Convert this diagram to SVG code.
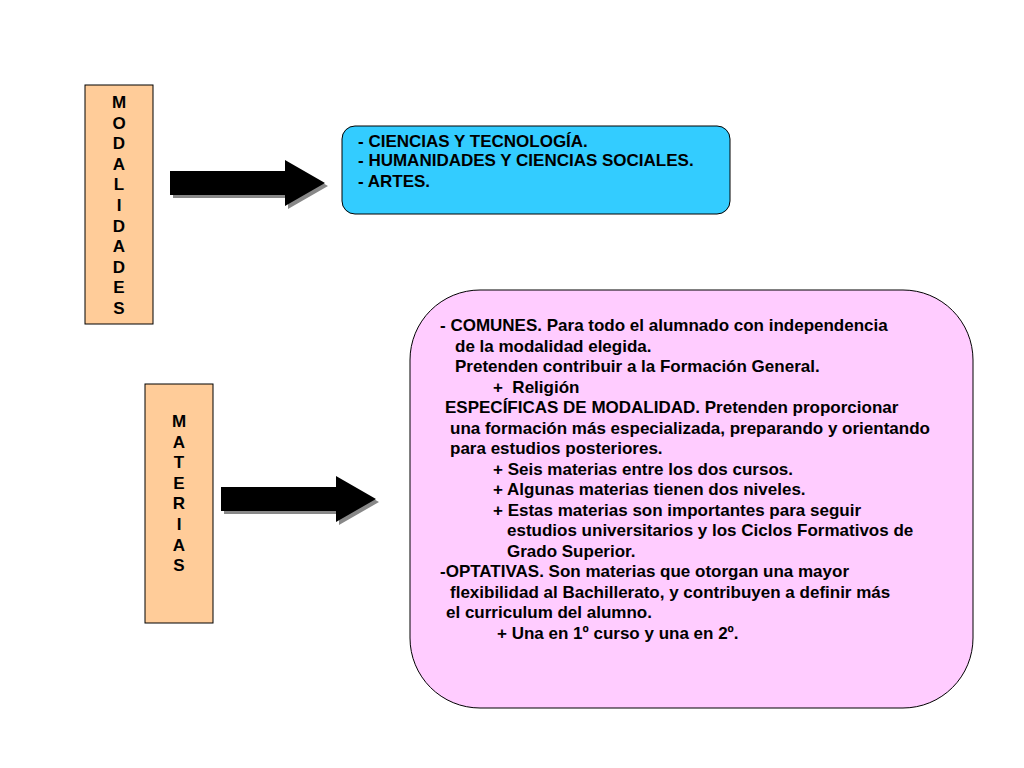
<svg xmlns="http://www.w3.org/2000/svg" width="1024" height="768" viewBox="0 0 1024 768">
<defs>
<style>
.t{font-family:"Liberation Sans",Arial,sans-serif;font-weight:bold;font-size:17px;fill:#000}
.v{font-family:"Liberation Sans",Arial,sans-serif;font-weight:bold;font-size:17px;fill:#000;text-anchor:middle}
.lbl{fill:#FFCC99;stroke:#000;stroke-width:1}
</style>
<path id="arr" d="M0,11 L115,11 L115,0 L155,23 L115,46 L115,35 L0,35 Z"/>
</defs>
<rect width="1024" height="768" fill="#fff"/>
<g id="modalidades">
<rect class="lbl" x="85" y="85" width="68" height="239"/>
<text class="v" x="119" y="108">M</text>
<text class="v" x="119" y="128.6">O</text>
<text class="v" x="119" y="149.2">D</text>
<text class="v" x="119" y="169.8">A</text>
<text class="v" x="119" y="190.4">L</text>
<text class="v" x="119" y="211">I</text>
<text class="v" x="119" y="231.6">D</text>
<text class="v" x="119" y="252.2">A</text>
<text class="v" x="119" y="272.8">D</text>
<text class="v" x="119" y="293.4">E</text>
<text class="v" x="119" y="314">S</text>
</g>
<g id="materias">
<rect class="lbl" x="145" y="384" width="68" height="239"/>
<text class="v" x="179" y="427">M</text>
<text class="v" x="179" y="447.6">A</text>
<text class="v" x="179" y="468.2">T</text>
<text class="v" x="179" y="488.8">E</text>
<text class="v" x="179" y="509.4">R</text>
<text class="v" x="179" y="530">I</text>
<text class="v" x="179" y="550.6">A</text>
<text class="v" x="179" y="571.2">S</text>
</g>
<g id="connectors">
<use href="#arr" x="173" y="163" fill="#888"/>
<use href="#arr" x="170" y="160" fill="#000"/>
<use href="#arr" x="224" y="479" fill="#888"/>
<use href="#arr" x="221" y="476" fill="#000"/>
</g>
<g id="modalidades-list">
<rect x="342" y="126" width="388" height="88" rx="13" fill="#33CCFF" stroke="#000" stroke-width="1"/>
<text class="t" x="358" y="147">- CIENCIAS Y TECNOLOGÍA.</text>
<text class="t" x="358" y="166">- HUMANIDADES Y CIENCIAS SOCIALES.</text>
<text class="t" x="358" y="187">- ARTES.</text>
</g>
<g id="materias-list">
<rect x="410" y="290" width="563" height="418" rx="70" fill="#FFCCFF" stroke="#000" stroke-width="1"/>
<text class="t" x="440" y="331">- COMUNES. Para todo el alumnado con independencia</text>
<text class="t" x="455" y="352">de la modalidad elegida.</text>
<text class="t" x="455" y="372">Pretenden contribuir a la Formación General.</text>
<text class="t" x="493" y="393">+&#160; Religión</text>
<text class="t" x="445" y="413">ESPECÍFICAS DE MODALIDAD. Pretenden proporcionar</text>
<text class="t" x="450" y="434">una formación más especializada, preparando y orientando</text>
<text class="t" x="450" y="454">para estudios posteriores.</text>
<text class="t" x="493" y="475">+ Seis materias entre los dos cursos.</text>
<text class="t" x="493" y="495">+ Algunas materias tienen dos niveles.</text>
<text class="t" x="493" y="516">+ Estas materias son importantes para seguir</text>
<text class="t" x="507" y="536">estudios universitarios y los Ciclos Formativos de</text>
<text class="t" x="507" y="557">Grado Superior.</text>
<text class="t" x="440" y="577">-OPTATIVAS. Son materias que otorgan una mayor</text>
<text class="t" x="450" y="598">flexibilidad al Bachillerato, y contribuyen a definir más</text>
<text class="t" x="446" y="618">el curriculum del alumno.</text>
<text class="t" x="497" y="639">+ Una en 1º curso y una en 2º.</text>
</g>
</svg>
